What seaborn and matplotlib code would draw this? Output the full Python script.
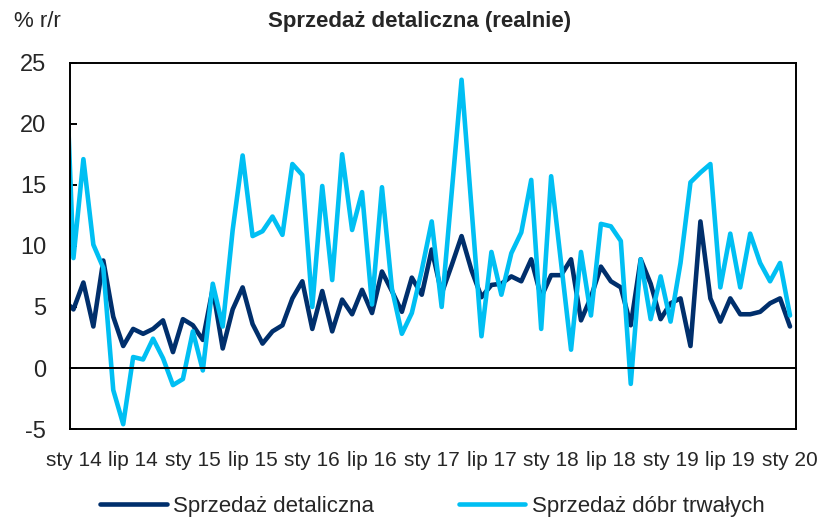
import numpy as np
import pandas as pd
import matplotlib
matplotlib.use("Agg")
import matplotlib.pyplot as plt
import seaborn as sns

# monthly data, gru 2013 .. sty 2020 (first point sits just left of the axis)
months = list(range(-1, 73))

retail = [5.6,
          4.8, 7.0, 3.4, 8.8, 4.2, 1.8, 3.2, 2.8, 3.2, 3.9, 1.3, 4.0,
          3.5, 2.3, 6.5, 1.6, 4.8, 6.6, 3.6, 2.0, 3.0, 3.5, 5.7, 7.1,
          3.2, 6.3, 3.0, 5.6, 4.4, 6.4, 4.5, 7.9, 6.3, 4.6, 7.4, 6.0,
          9.7, 6.1, 8.4, 10.8, 8.0, 5.8, 6.8, 6.9, 7.5, 7.1, 8.9, 5.8,
          7.6, 7.6, 8.9, 3.9, 5.8, 8.3, 7.1, 6.6, 3.5, 8.9, 6.9, 4.0,
          5.3, 5.7, 1.8, 12.0, 5.7, 3.8, 5.7, 4.4, 4.4, 4.6, 5.3, 5.7,
          3.4]

durables = [30.0,
            9.0, 17.1, 10.1, 8.2, -1.8, -4.6, 0.9, 0.7, 2.4, 0.8, -1.4, -0.9,
            3.0, -0.2, 6.9, 3.4, 11.3, 17.4, 10.8, 11.2, 12.4, 10.9, 16.7, 15.8,
            5.0, 14.9, 7.2, 17.5, 11.3, 14.4, 5.2, 14.8, 6.5, 2.8, 4.5, 8.0,
            12.0, 5.0, 14.3, 23.6, 13.1, 2.6, 9.5, 6.0, 9.4, 11.1, 15.4, 3.2,
            15.7, 8.6, 1.5, 9.5, 4.3, 11.8, 11.6, 10.4, -1.3, 8.9, 4.0, 7.5,
            3.8, 8.6, 15.2, 16.0, 16.7, 6.6, 11.0, 6.6, 11.0, 8.6, 7.1, 8.6,
            4.3]

tick_labels = ["sty 14", "lip 14", "sty 15", "lip 15", "sty 16", "lip 16",
               "sty 17", "lip 17", "sty 18", "lip 18", "sty 19", "lip 19",
               "sty 20"]
label_pos = list(range(0, 73, 6))
boundaries = [p - 0.5 for p in label_pos[1:]]

series_names = ["Sprzedaż detaliczna", "Sprzedaż dóbr trwałych"]
colors = {"Sprzedaż detaliczna": "#002F6C", "Sprzedaż dóbr trwałych": "#00BFF3"}

df = pd.DataFrame({"month": months,
                   series_names[0]: retail,
                   series_names[1]: durables})
long = df.melt(id_vars="month", var_name="seria", value_name="r/r")

sns.set_style("white")
plt.rcParams['font.family'] = ['Liberation Sans', 'DejaVu Sans']
plt.rcParams['axes.unicode_minus'] = False

fig = plt.figure(figsize=(8.25, 5.22), dpi=100)
ax = fig.add_axes([0.0848, 0.178, 0.880, 0.702])

sns.lineplot(data=long, x="month", y="r/r", hue="seria", palette=colors,
             hue_order=series_names, linewidth=3.3, ax=ax, legend=False)

ax.set_xlim(-0.35, 72.6)
ax.set_ylim(-5, 25)
ax.set_yticks(range(-5, 26, 5))
ax.set_xlabel("")
ax.set_ylabel("")

for s in ax.spines.values():
    s.set_color("black")
    s.set_linewidth(1.4)

# the category axis crosses at zero, labels stay at the bottom
ax.spines['bottom'].set_position(('data', 0))
ax.set_xticks(boundaries)
ax.tick_params(axis='x', direction='in', length=5, width=1.4,
               labelbottom=False, color='black')
ax.tick_params(axis='y', direction='in', length=5, width=1.4, pad=17,
               labelsize=17, color='black', left=True, right=False)

sec = ax.secondary_xaxis('bottom')
sec.set_xticks(label_pos, tick_labels)
sec.tick_params(length=0, labelsize=15, pad=16)
sec.spines['bottom'].set_color('black')
sec.spines['bottom'].set_linewidth(1.4)

fig.text(0.017, 0.958, "% r/r", fontsize=16, ha='left', va='center')
fig.text(0.509, 0.958, "Sprzedaż detaliczna (realnie)", fontsize=16,
         fontweight='bold', ha='center', va='center')

handles = [plt.Line2D([], [], color=colors[n], lw=3.3) for n in series_names]
fig.legend(handles, series_names, loc='center', bbox_to_anchor=(0.524, 0.03),
           ncol=2, frameon=False, fontsize=16, handlelength=3.0,
           columnspacing=3.8, handletextpad=0.3)

fig.savefig("out.png", dpi=100)
